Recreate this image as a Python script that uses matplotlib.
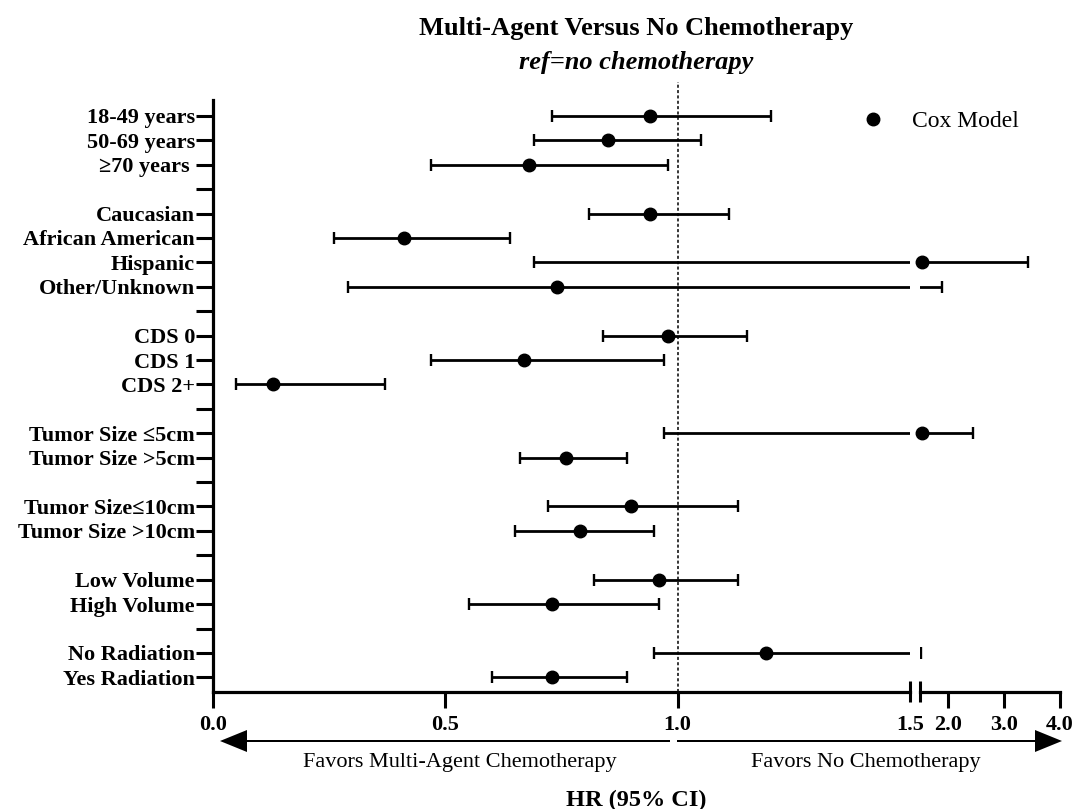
import numpy as np
import matplotlib
matplotlib.use('Agg')
import matplotlib.pyplot as plt
from matplotlib.lines import Line2D
from matplotlib.patches import FancyArrow
import matplotlib.transforms as mtransforms

# ---------------- data ----------------
row_labels = ["18-49 years", "50-69 years", "\u226570 years ", "",
              "Caucasian", "African American", "Hispanic", "Other/Unknown", "",
              "CDS 0", "CDS 1", "CDS 2+", "",
              "Tumor Size \u22645cm", "Tumor Size >5cm", "",
              "Tumor Size\u226410cm", "Tumor Size >10cm", "",
              "Low Volume", "High Volume", "",
              "No Radiation", "Yes Radiation"]
hr    = [0.94, 0.85, 0.68, 0.94, 0.41, 1.53, 0.74, 0.98, 0.67, 0.13,
         1.53, 0.76, 0.90, 0.79, 0.96, 0.73, 1.19, 0.73]
lower = [0.73, 0.69, 0.47, 0.81, 0.26, 0.69, 0.29, 0.84, 0.47, 0.05,
         0.97, 0.66, 0.72, 0.65, 0.82, 0.55, 0.95, 0.60]
upper = [1.20, 1.05, 0.98, 1.11, 0.64, 3.42, 1.90, 1.15, 0.97, 0.37,
         2.44, 0.89, 1.13, 0.95, 1.13, 0.96, 1.52, 0.89]
left_ticks = [0.0, 0.5, 1.0, 1.5]
left_ticklabels = ["0.0", "0.5", "1.0", "1.5"]
right_ticks = [2.0, 3.0, 4.0]
right_ticklabels = ["2.0", "3.0", "4.0"]
break_at = 1.5
x_max = 4.0
legend_label = "Cox Model"

# ---------------- style ----------------
plt.rcParams['font.family'] = ['Liberation Serif', 'DejaVu Serif']
plt.rcParams['font.weight'] = 'bold'

W, H = 1075, 809
fig = plt.figure(figsize=(W / 100, H / 100), dpi=100)

ax_top_px, ax_bot_px = 82, 692
axL = fig.add_axes([213 / W, 1 - ax_bot_px / H, (910 - 213) / W, (ax_bot_px - ax_top_px) / H])
axR = fig.add_axes([920 / W, 1 - ax_bot_px / H, (1060 - 920) / W, (ax_bot_px - ax_top_px) / H])

ypos_all = np.arange(len(row_labels))
ypos = np.array([i for i, l in enumerate(row_labels) if l != ""])
hr_a = np.array(hr)
lo_a = np.array(lower)
hi_a = np.array(upper)

for ax in (axL, axR):
    ax.patch.set_visible(False)
    ax.errorbar(hr_a, ypos, xerr=[hr_a - lo_a, hi_a - hr_a], fmt='none',
                ecolor='black', elinewidth=2.0, capsize=4, capthick=1.7, zorder=3)
    ax.set_ylim(23.6, -1.39)
    ax.spines['top'].set_visible(False)
    ax.spines['right'].set_visible(False)
    ax.spines['bottom'].set_linewidth(2.3)
    ax.spines['left'].set_linewidth(2.3)

mL = hr_a <= break_at
axL.plot(hr_a[mL], ypos[mL], 'o', color='black', ms=9, clip_on=False, zorder=4)
axR.plot(hr_a[~mL], ypos[~mL], 'o', color='black', ms=9, clip_on=False, zorder=4)

axL.set_xlim(0, break_at)
axR.set_xlim(break_at, x_max)

axL.set_yticks(ypos_all)
axL.set_yticklabels(row_labels)
axL.spines['left'].set_bounds(-0.65, 23.6)
axL.tick_params(axis='y', direction='out', length=12, width=2.2, pad=1, labelsize=16)
axL.set_xticks(left_ticks)
axL.set_xticklabels(left_ticklabels)
axL.tick_params(axis='x', direction='out', length=11.5, width=2.2, pad=5, labelsize=16)
axL.xaxis.get_major_ticks()[3].tick1line.set_visible(False)

axR.spines['left'].set_visible(False)
axR.set_yticks([])
axR.set_xticks(right_ticks)
axR.set_xticklabels(right_ticklabels)
axR.tick_params(axis='x', direction='out', length=11.5, width=2.2, pad=5, labelsize=16)

# reference line
axL.axvline(1.0, color='black', lw=1.1, ls=(0, (2, 1.5)), zorder=2)

# break marks
for ax in (axL, axR):
    tr = mtransforms.blended_transform_factory(ax.transData, ax.transAxes)
    ax.plot([break_at, break_at], [-10 / 610, 11 / 610], transform=tr,
            color='black', lw=2.2, clip_on=False, solid_capstyle='butt')

# legend
fig.legend(handles=[Line2D([], [], ls='none', marker='o', color='black', ms=9)],
           labels=[legend_label], loc='center left',
           bbox_to_anchor=(861 / W, 1 - 121 / H), bbox_transform=fig.transFigure,
           frameon=False, handlelength=1.0, handletextpad=1.16, borderpad=0,
           borderaxespad=0, prop={'size': 17, 'weight': 'normal'})

# titles
fig.text(636 / W, 1 - 28 / H, "Multi-Agent Versus No Chemotherapy",
         ha='center', va='center', fontsize=19, fontweight='bold')
fig.text(636 / W, 1 - 63 / H, "ref=no chemotherapy", ha='center', va='center',
         fontsize=19, fontweight='bold', fontstyle='italic')

# overlay for arrows and annotations
axO = fig.add_axes([0, 0, 1, 1], zorder=-1)
axO.set_xlim(0, W)
axO.set_ylim(H, 0)
axO.axis('off')
axO.add_patch(FancyArrow(670, 741, 220 - 670, 0, width=2, head_width=22, head_length=27,
                         length_includes_head=True, color='black', lw=0))
axO.add_patch(FancyArrow(677, 741, 1062 - 677, 0, width=2, head_width=22, head_length=27,
                         length_includes_head=True, color='black', lw=0))
axO.text(460, 762, "Favors Multi-Agent Chemotherapy", ha='center', va='center',
         fontsize=16, fontweight='normal')
axO.text(866, 762, "Favors No Chemotherapy", ha='center', va='center',
         fontsize=16, fontweight='normal')
axO.text(636, 800, "HR (95% CI)", ha='center', va='center', fontsize=17.5, fontweight='bold')

fig.savefig('out.png', dpi=100)
